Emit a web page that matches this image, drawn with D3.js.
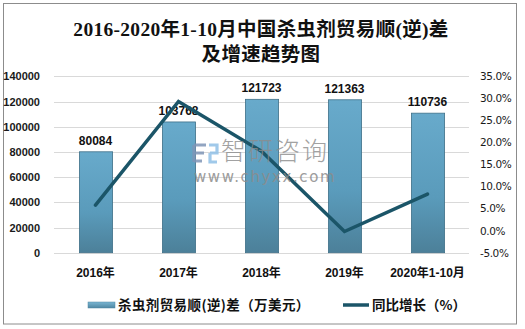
<!DOCTYPE html>
<html>
<head>
<meta charset="utf-8">
<script src="https://cdn.jsdelivr.net/npm/d3@7"></script>
<style>
  html, body { margin: 0; padding: 0; background: #fff; }
  svg { display: block; }
</style>
</head>
<body>
<svg id="chart" width="525" height="329"></svg>
<script>
// Pesticide trade balance (10k USD) and year-on-year growth (%)
const categories = ["2016年", "2017年", "2018年", "2019年", "2020年1-10月"];
const balance = [80084, 103768, 121723, 121363, 110736];
const growth = [5.8, 29.3, 18.0, -0.2, 8.3];
const leftTicks = [0, 20000, 40000, 60000, 80000, 100000, 120000, 140000];
const rightTicks = [-5, 0, 5, 10, 15, 20, 25, 30, 35];
const titleLines = ["2016-2020年1-10月中国杀虫剂贸易顺(逆)差", "及增速趋势图"];
const legendLabels = ["杀虫剂贸易顺(逆)差（万美元）", "同比增长（%）"];

const svg = d3.select("#chart");
const cjk = "'Liberation Sans', Arial, 'Noto Sans CJK SC', sans-serif";
const serif = "'Liberation Serif', 'DejaVu Serif', 'Noto Sans CJK SC', serif";

const plot = { left: 54, right: 469, top: 76.3, bottom: 252.7 };

// outer frame
svg.append("rect")
  .attr("x", 3.5).attr("y", 3.5).attr("width", 513).attr("height", 320.5)
  .attr("fill", "#fff").attr("stroke", "#8c8c8c").attr("stroke-width", 1);

// title
svg.append("g").selectAll("text").data(titleLines).join("text")
  .attr("x", 261).attr("y", (d, i) => 36 + i * 25)
  .attr("text-anchor", "middle")
  .attr("font-family", serif).attr("font-weight", "bold").attr("font-size", 19.5)
  .attr("letter-spacing", 0.3)
  .attr("fill", "#111")
  .text(d => d);

const x = d3.scaleBand().domain(categories).range([plot.left, plot.right]).paddingInner(0.6).paddingOuter(0.3);
const yL = d3.scaleLinear().domain([0, 140000]).range([plot.bottom, plot.top]);
const yR = d3.scaleLinear().domain([-5, 35]).range([plot.bottom, plot.top]);

// gridlines
svg.append("g").selectAll("line").data(leftTicks).join("line")
  .attr("x1", plot.left).attr("x2", plot.right)
  .attr("y1", d => Math.round(yL(d)) + 0.5).attr("y2", d => Math.round(yL(d)) + 0.5)
  .attr("stroke", "#d9d9d9").attr("stroke-width", 1);

// left axis
const axL = svg.append("g").attr("transform", `translate(${plot.left},0)`)
  .call(d3.axisLeft(yL).tickValues(leftTicks).tickSize(0).tickPadding(14).tickFormat(d3.format("d")));
axL.select(".domain").remove();
axL.selectAll("text").attr("font-family", cjk).attr("font-weight", "bold").attr("font-size", 11).attr("fill", "#1a1a1a");

// right axis
const axR = svg.append("g").attr("transform", `translate(${plot.right},0)`)
  .call(d3.axisRight(yR).tickValues(rightTicks).tickSize(0).tickPadding(11).tickFormat(d => d.toFixed(1) + "%"));
axR.select(".domain").remove();
axR.selectAll("text").attr("font-family", "'DejaVu Sans', sans-serif").attr("font-size", 10.5).attr("fill", "#1a1a1a").attr("letter-spacing", -0.4);

// bar gradient
const defs = svg.append("defs");
const grad = defs.append("linearGradient").attr("id", "barGrad").attr("x1", 0).attr("y1", 0).attr("x2", 0).attr("y2", 1);
grad.append("stop").attr("offset", "0%").attr("stop-color", "#68aacb");
grad.append("stop").attr("offset", "60%").attr("stop-color", "#5a9bbb");
grad.append("stop").attr("offset", "100%").attr("stop-color", "#4c8099");
const hgrad = defs.append("linearGradient").attr("id", "barGradH").attr("x1", 0).attr("y1", 0).attr("x2", 0).attr("y2", 1);
hgrad.append("stop").attr("offset", "0%").attr("stop-color", "#7ab6d3");
hgrad.append("stop").attr("offset", "100%").attr("stop-color", "#4f87a2");

// bars
svg.append("g").selectAll("rect").data(balance).join("rect")
  .attr("x", (d, i) => x(categories[i]) + 0.5)
  .attr("y", d => yL(d))
  .attr("width", x.bandwidth())
  .attr("height", d => yL(0) - yL(d))
  .attr("fill", "url(#barGrad)")
  .attr("stroke", "#3f7088").attr("stroke-width", 0.8);

// x axis labels
svg.append("g").selectAll("text").data(categories).join("text")
  .attr("x", d => x(d) + x.bandwidth() / 2)
  .attr("y", 277)
  .attr("text-anchor", "middle")
  .attr("font-family", cjk).attr("font-weight", "bold").attr("font-size", 12).attr("fill", "#111")
  .text(d => d);

// data labels
svg.append("g").selectAll("text").data(balance).join("text")
  .attr("x", (d, i) => x(categories[i]) + x.bandwidth() / 2)
  .attr("y", d => yL(d) - 7)
  .attr("text-anchor", "middle")
  .attr("font-family", cjk).attr("font-weight", "bold").attr("font-size", 12).attr("fill", "#111")
  .text(d => d);

// growth line
const line = d3.line()
  .x((d, i) => x(categories[i]) + x.bandwidth() / 2)
  .y(d => yR(d));
svg.append("path").datum(growth)
  .attr("d", line)
  .attr("fill", "none").attr("stroke", "#1b5568").attr("stroke-width", 3.5)
  .attr("stroke-linejoin", "miter").attr("stroke-linecap", "round");

// watermark, laid over the plot
const wm = svg.append("g");
wm.append("path").attr("d", "M194 145 h12 M194 145 v17 M194 153 h10 M194 161 h8")
  .attr("stroke", "#7f95b6").attr("stroke-width", 3.2).attr("fill", "none").attr("opacity", 0.85);
wm.append("path").attr("d", "M209 145 h8 v8 h-7 M210 153 v9 h7")
  .attr("stroke", "#8fc0e6").attr("stroke-width", 3.2).attr("fill", "none").attr("opacity", 0.85);
wm.append("text").attr("x", 221).attr("y", 159.5)
  .attr("font-family", "'Noto Sans CJK SC', sans-serif").attr("font-weight", 300).attr("font-size", 25)
  .attr("fill", "#8c8c8c").attr("opacity", 0.8).attr("letter-spacing", 2)
  .text("智研咨询");
wm.append("text").attr("x", 194).attr("y", 181.5)
  .attr("font-family", "'DejaVu Sans', sans-serif").attr("font-size", 15)
  .attr("fill", "#8c8c8c").attr("opacity", 0.85).attr("letter-spacing", 1.6)
  .text("www.chyxx.com");

// legend
const lg = svg.append("g");
lg.append("rect").attr("x", 88).attr("y", 302).attr("width", 27).attr("height", 6)
  .attr("fill", "url(#barGradH)").attr("stroke", "#4f87a2").attr("stroke-width", 0.5);
lg.append("text").attr("x", 118).attr("y", 310)
  .attr("font-family", "'Noto Sans CJK SC', sans-serif").attr("font-weight", "bold").attr("font-size", 13.5).attr("fill", "#111")
  .attr("letter-spacing", 0.4)
  .text(legendLabels[0]);
lg.append("line").attr("x1", 343).attr("x2", 369).attr("y1", 305).attr("y2", 305)
  .attr("stroke", "#1b5568").attr("stroke-width", 3.5);
lg.append("text").attr("x", 372).attr("y", 310)
  .attr("font-family", "'Noto Sans CJK SC', sans-serif").attr("font-weight", "bold").attr("font-size", 13.5).attr("fill", "#111")
  .text(legendLabels[1]);
</script>
</body>
</html>
